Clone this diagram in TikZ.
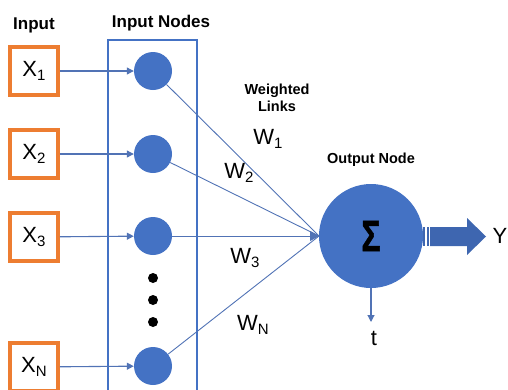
\documentclass[tikz,border=0pt]{standalone}
\usepackage{fontspec}
\setmainfont{Liberation Sans}
\newfontfamily\sigmafont[FakeBold=1.5]{Liberation Sans Bold}
\usetikzlibrary{arrows.meta}
\definecolor{netblue}{HTML}{4472C4}
\definecolor{linkblue}{HTML}{5173B5}
\definecolor{arrowblue}{HTML}{3E66B0}
\definecolor{inorange}{HTML}{ED7D31}
% lowered subscript for the variable labels
\newcommand{\lowsub}[1]{\raisebox{-0.3ex}{\fontsize{15}{15}\selectfont #1}}
\begin{document}
\begin{tikzpicture}[x=1pt,y=-1pt,
  inbox/.style={draw=inorange,line width=3.8pt,minimum width=48pt,minimum height=48pt,inner sep=0pt,font=\fontsize{22}{22}\selectfont},
  neuron/.style={circle,fill=netblue,minimum size=38pt,inner sep=0pt},
  feed/.style={draw=linkblue,line width=1.1pt,-{Triangle[length=7pt,width=7pt]}},
  link/.style={draw=linkblue,line width=0.9pt},
  heading/.style={font=\fontsize{17}{17}\selectfont\bfseries},
  subhead/.style={font=\fontsize{14.5}{17}\selectfont\bfseries,align=center},
  wlabel/.style={font=\fontsize{22}{22}\selectfont},
  dot/.style={circle,fill=black,minimum size=10pt,inner sep=0pt}]
\useasboundingbox (0,0) rectangle (508,389);
\begin{scope}
\clip (0,0) rectangle (508,389);

% headings
\node[heading] (hin) at (34,25) {Input};
\node[heading] (hnodes) at (161,23) {Input Nodes};
\node[subhead] (hlinks) at (277,98) {Weighted\\Links};
\node[subhead] (hout) at (371,160) {Output Node};

% frame round the input layer
\draw[draw=netblue,line width=2pt] (108,40) rectangle (197,400);

% inputs
\node[inbox] (x1) at (34,71) {X\lowsub{1}};
\node[inbox] (x2) at (34,154) {X\lowsub{2}};
\node[inbox] (x3) at (34,237) {X\lowsub{3}};
\node[inbox] (xn) at (34,367) {X\lowsub{N}};

% input neurons
\node[neuron] (c1) at (153,71) {};
\node[neuron] (c2) at (153,154) {};
\node[neuron] (c3) at (153,236) {};
\node[neuron] (cn) at (153,366) {};
\node[dot] (d1) at (153,278) {};
\node[dot] (d2) at (153,300) {};
\node[dot] (d3) at (153,322) {};

\draw[feed] (x1) -- (c1);
\draw[feed] (x2) -- (c2);
\draw[feed] (x3) -- (c3);
\draw[feed] (xn) -- (cn);

% output neuron with a heavy summation sign
\node[circle,fill=netblue,minimum size=104pt,inner sep=0pt] (out) at (371,236)
  {\sigmafont\fontsize{40}{40}\selectfont\scalebox{0.8}[1.1]{Σ}};
\coordinate (conv) at (319,236);

% weighted links
\draw[link] (c1) -- (conv);
\draw[link] (c2) -- (conv);
\draw[link] (cn) -- (conv);
\draw[link,-{Triangle[length=9pt,width=10pt]}] (c3) -- (conv);

\node[wlabel] (w1) at (268,139) {W\lowsub{1}};
\node[wlabel] (w2) at (239,173) {W\lowsub{2}};
\node[wlabel] (w3) at (245,258) {W\lowsub{3}};
\node[wlabel] (wn) at (253,325) {W\lowsub{N}};

% threshold
\coordinate (tend) at (371,322);
\draw[draw=linkblue,line width=1.1pt,-{Triangle[length=7pt,width=7pt]}] (out.south) -- (tend);
\node[wlabel] (t) at (374,338) {t};

% output arrow
\fill[arrowblue] (423,227) rectangle (425,246);
\fill[arrowblue] (426.5,227) rectangle (428.5,246);
\fill[arrowblue] (430,227) -- (467,227) -- (467,218) -- (486,236.5) -- (467,255) -- (467,246) -- (430,246) -- cycle;
\node[wlabel] (y) at (500,236) {Y};
\end{scope}
\end{tikzpicture}
\end{document}
